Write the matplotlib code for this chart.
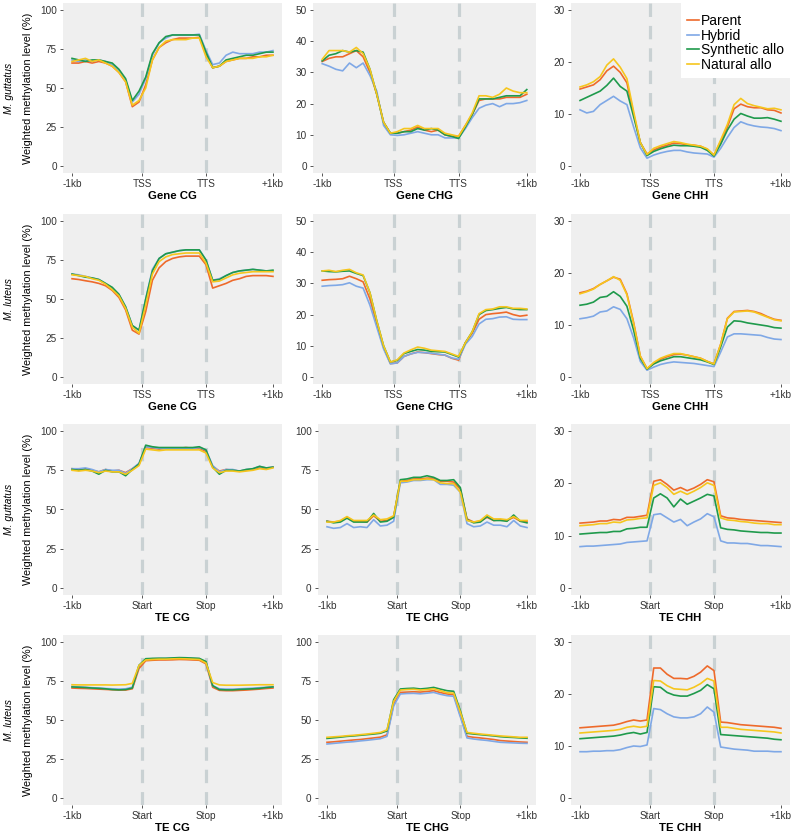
import matplotlib
matplotlib.use("Agg")
import matplotlib.pyplot as plt

plt.rcParams['font.family'] = ['Liberation Sans', 'DejaVu Sans']

# bins: -1kb = 0, TSS/Start = 21, TTS/Stop = 40, +1kb = 60
bins = list(range(0, 61, 2))
series = ['Parent', 'Hybrid', 'Synthetic allo', 'Natural allo']
colors = ['#EE6A2B', '#7FA8E6', '#1F9A4C', '#F6C61E']

# ---- M. guttatus, genes ----
gut_gene_cg_parent = [66, 66, 67, 66, 67, 66, 64, 60, 54, 38, 41, 52, 68, 76, 79, 81, 82, 82, 82, 82.5, 72, 63, 64, 67, 68, 69, 69, 70, 70, 71, 71]
gut_gene_cg_hybrid = [68, 67, 68, 67, 68, 67, 65, 61, 55, 41, 46, 56, 71, 79, 82, 84, 84, 84, 84, 84.5, 74, 65, 66, 71, 73, 72, 72, 72, 73, 73, 74]
gut_gene_cg_synth = [69, 68, 67, 68, 68, 67, 66, 62, 56, 42, 48, 57, 72, 79, 83, 84, 84, 84, 84, 84, 73, 63, 64, 68, 69, 70, 71, 71, 72, 73, 73]
gut_gene_cg_natural = [67, 68, 69, 67, 68, 66, 64, 60, 54, 39, 42, 50, 68, 76, 80, 81, 81, 81, 82, 82, 70, 63, 64, 67, 68, 69, 69, 69, 70, 70, 71]

gut_gene_chg_parent = [33.5, 34.5, 35, 35, 36, 37, 35, 30, 23, 14, 10.5, 10.5, 11, 11.5, 12.5, 11.5, 11, 11.5, 10, 9.5, 9.5, 13, 16.5, 21, 21.5, 21.5, 21.5, 22, 22, 22, 23]
gut_gene_chg_hybrid = [32.8, 32, 31, 30.5, 33, 31.5, 33, 29, 24, 13, 10, 9.8, 10, 10.5, 11, 10.5, 10, 10, 9, 9, 9, 12, 15.5, 18.5, 19.5, 20, 19, 20, 20, 20.3, 21]
gut_gene_chg_synth = [33.7, 35.5, 36, 37, 36.5, 37, 36.5, 31, 23, 14, 10.5, 10.5, 11, 11, 12, 11.5, 12, 11.5, 10, 9.5, 8.8, 12.5, 16.5, 21.5, 21.5, 21.5, 22, 22.5, 22.5, 22.5, 24.5]
gut_gene_chg_natural = [34.2, 37, 37, 37, 36.5, 38, 36, 31, 23, 14, 10.5, 11, 12, 12, 13, 12, 12, 12, 10.5, 10, 9.5, 13, 17, 22.5, 22.5, 22, 23, 25, 24, 23.5, 23.5]

gut_gene_chh_parent = [14.8, 15.2, 15.6, 16.6, 18.3, 19.2, 18, 16, 10, 4.5, 2.3, 3.1, 3.6, 4, 4.4, 4.3, 4.1, 4, 3.8, 3.2, 2.1, 4.7, 7.5, 11, 11.9, 11.4, 11.2, 11.2, 10.8, 10.7, 10.2]
gut_gene_chh_hybrid = [10.8, 10.2, 10.5, 11.8, 12.6, 13.4, 12.5, 11.8, 7.5, 3.5, 1.5, 2.1, 2.5, 2.8, 3.0, 3.0, 2.7, 2.5, 2.4, 2.3, 1.7, 3.4, 5.5, 7.4, 8.5, 8.0, 7.7, 7.5, 7.4, 7.2, 6.8]
gut_gene_chh_synth = [12.6, 13.2, 13.8, 14.4, 15.5, 16.9, 15.3, 14.4, 9.5, 4.5, 2, 2.8, 3.3, 3.7, 4.0, 3.9, 3.9, 3.8, 3.6, 3.0, 1.9, 4.2, 6.9, 9.0, 10.1, 9.6, 9.2, 9.2, 9.3, 9.0, 8.6]
gut_gene_chh_natural = [15.2, 15.6, 16.2, 17.2, 19.4, 20.6, 19.0, 16.8, 10.5, 4.5, 2.2, 3.4, 3.9, 4.3, 4.7, 4.5, 4.2, 4.0, 3.8, 3.3, 2.1, 5.0, 8.0, 11.8, 13.0, 12.0, 11.6, 11.3, 11.0, 11.1, 10.8]

# ---- M. luteus, genes ----
lut_gene_cg_parent = [63, 62.5, 61.7, 61, 60, 58.5, 55.5, 51, 43, 30, 27.5, 42, 62, 70, 74, 76, 77, 77.5, 77.5, 77.5, 72, 57, 58.5, 60, 62, 63, 64.5, 65, 65, 65, 64.5]
lut_gene_cg_hybrid = [66, 65.5, 64.5, 63.5, 62.5, 60, 57, 53, 45, 33, 30, 50, 69, 76, 79, 80, 81, 81.5, 81.5, 81.5, 75, 62, 63, 65, 67, 68, 68.5, 69, 68.5, 68, 68]
lut_gene_cg_synth = [66, 65, 64, 63.5, 62.5, 60, 57.5, 53, 45, 33, 30, 50, 68, 76, 79, 80, 81, 81.5, 81.5, 81.5, 75, 62, 62.5, 65, 67, 68, 68.5, 69, 68.5, 68, 68.5]
lut_gene_cg_natural = [65.5, 65, 64.5, 63, 62, 59.5, 56, 52, 44, 32, 28, 46, 66, 74, 77, 78.5, 79, 79.5, 79.5, 79.5, 73, 61, 61.5, 63.5, 65.5, 66.5, 67, 67.5, 67.5, 67.5, 67.5]

lut_gene_chg_parent = [31, 31.2, 31.3, 31.5, 32.3, 31.5, 30.5, 25, 17, 9.5, 4.3, 4.5, 6.6, 7.4, 8, 7.8, 7.5, 7.2, 7, 6, 5.4, 11, 14, 18.5, 20, 20.3, 20.5, 20.8, 20, 19.5, 19.8]
lut_gene_chg_hybrid = [29.1, 29.3, 29.4, 29.6, 30.2, 29.1, 28.5, 23, 16, 9, 4.2, 4.5, 6.6, 7.4, 7.9, 7.8, 7.6, 7.3, 7, 6.1, 5.7, 10.5, 13, 17, 18.5, 18.7, 19.2, 19.3, 18.5, 18.4, 18.4]
lut_gene_chg_synth = [34, 33.8, 33.7, 33.9, 34, 33.2, 32.5, 27, 18, 10, 4.8, 5.3, 7.5, 8.2, 8.8, 8.6, 8.2, 8.1, 8, 7.2, 6.4, 11, 14.5, 20, 21.3, 21.6, 22, 22.3, 21.8, 21.6, 21.6]
lut_gene_chg_natural = [34, 34.2, 33.8, 34.2, 34.5, 33.4, 32.7, 27, 18, 10, 4.8, 5.5, 7.7, 8.7, 9.6, 9.2, 8.6, 8.4, 8.2, 7.4, 6.6, 11, 14.5, 20.3, 21.6, 21.8, 22.5, 22.5, 22, 22, 21.8]

lut_gene_chh_parent = [16.2, 16.5, 17, 17.8, 18.5, 19.2, 18.8, 16, 10.5, 4, 1.6, 2.6, 3.4, 3.9, 4.3, 4.4, 4.2, 3.9, 3.6, 3.0, 2.5, 6.3, 11.3, 12.6, 12.7, 12.8, 12.6, 12.2, 11.6, 11.1, 10.9]
lut_gene_chh_hybrid = [11.2, 11.4, 11.7, 12.5, 12.7, 13.5, 13.0, 11.2, 7.5, 3, 1.3, 1.9, 2.4, 2.7, 2.9, 2.8, 2.7, 2.6, 2.4, 2.2, 2.0, 4.8, 7.7, 8.3, 8.3, 8.2, 8.1, 8.0, 7.6, 7.3, 7.2]
lut_gene_chh_synth = [13.8, 14, 14.4, 15.3, 15.5, 16.4, 15.5, 13.6, 9, 3.6, 1.5, 2.5, 3.1, 3.5, 3.9, 3.9, 3.7, 3.5, 3.3, 2.9, 2.4, 5.8, 9.6, 10.8, 10.7, 10.4, 10.2, 10, 9.8, 9.5, 9.4]
lut_gene_chh_natural = [16.0, 16.4, 16.9, 17.8, 18.5, 19.3, 18.6, 15.8, 10.3, 4, 1.6, 2.8, 3.6, 4.1, 4.5, 4.5, 4.2, 3.9, 3.6, 3.0, 2.5, 6.3, 11.2, 12.5, 12.6, 12.7, 12.5, 12, 11.5, 11.0, 10.8]

# ---- M. guttatus, TEs ----
gut_te_cg_parent = [76, 75.5, 76, 75, 74, 75.5, 74.5, 75, 73.5, 76, 79, 89.5, 89, 88.5, 89, 89, 89, 89.5, 89, 89, 87, 77.5, 74.5, 75.5, 75, 74.5, 75, 75.5, 76.5, 76, 77]
gut_te_cg_hybrid = [76, 76, 76.5, 75.5, 74, 75.5, 75, 75, 73, 76, 79.5, 90, 89.5, 89, 89, 89, 89, 89, 89, 89.5, 88, 78, 74, 75.5, 75.5, 74.5, 75.5, 76, 77.5, 76.5, 77]
gut_te_cg_synth = [75.5, 75, 75.5, 74.5, 72.5, 75, 74, 74, 71.5, 75.5, 79, 91, 90, 89.5, 89.5, 89.5, 89.5, 89.5, 89.5, 90, 88, 77, 72.5, 75, 75, 74.5, 75.5, 76, 77.5, 76.5, 77]
gut_te_cg_natural = [75, 74.5, 75, 74.5, 73.5, 74.5, 74, 74, 72.5, 75, 78, 88.5, 88, 87.5, 88, 88, 88, 88, 88, 88, 86, 76.5, 73.5, 74.5, 74.5, 74, 74.5, 75, 76, 75.5, 76.5]

gut_te_chg_parent = [42.5, 42, 42.5, 45, 42.5, 42.5, 42, 46, 42.5, 43, 45.5, 68, 68.5, 69.5, 69.5, 70, 70, 68, 68, 67.5, 63, 44, 42, 42.5, 45, 43, 43.5, 43, 45, 42.5, 42.5]
gut_te_chg_hybrid = [39, 38, 38.5, 41, 38.5, 39, 38.5, 43.5, 39.5, 40, 42.5, 67, 67.5, 68.5, 68.5, 69, 69, 66, 66, 65.5, 61, 41, 39, 39.5, 42, 40, 40, 39, 43, 39.5, 38.5]
gut_te_chg_synth = [42.5, 41.5, 42, 44.5, 42, 42, 42, 47.5, 42, 42.5, 45, 69, 69.5, 70.5, 70.5, 71.5, 70.5, 68.5, 68.5, 69, 64, 43.5, 41.5, 42, 45.5, 43, 43, 42.5, 46.5, 42.5, 41.5]
gut_te_chg_natural = [42, 42, 43, 45.5, 43, 43, 43, 46.5, 43.5, 44, 46, 68, 68, 69, 69, 69.5, 69, 67, 66.5, 66.5, 61, 43, 42, 43, 46.5, 44, 44, 43.5, 45.5, 43, 43]

gut_te_chh_parent = [12.4, 12.5, 12.6, 12.8, 12.8, 13.1, 13.0, 13.5, 13.5, 13.7, 13.9, 20.4, 20.7, 19.8, 18.7, 19.2, 18.6, 19.1, 19.8, 20.7, 20.3, 13.8, 13.4, 13.3, 13.1, 13.0, 12.9, 12.8, 12.7, 12.6, 12.5]
gut_te_chh_hybrid = [7.9, 8.0, 8.0, 8.1, 8.2, 8.3, 8.4, 8.7, 8.8, 8.9, 9.0, 14.0, 14.2, 13.4, 12.6, 13.1, 11.9, 12.6, 13.2, 14.2, 13.6, 9.0, 8.6, 8.6, 8.5, 8.5, 8.3, 8.1, 8.1, 8.0, 7.9]
gut_te_chh_synth = [10.3, 10.4, 10.5, 10.6, 10.6, 10.8, 10.8, 11.3, 11.4, 11.6, 11.6, 17.2, 18.0, 17.2, 15.5, 17.0, 16.0, 16.6, 17.2, 17.9, 17.6, 11.5, 11.2, 11.1, 10.9, 10.8, 10.7, 10.6, 10.6, 10.5, 10.5]
gut_te_chh_natural = [11.9, 12.0, 12.1, 12.3, 12.3, 12.6, 12.5, 13.0, 13.1, 13.3, 13.4, 19.6, 20.1, 19.2, 17.9, 18.5, 17.9, 18.5, 19.2, 20.1, 19.6, 13.4, 13.0, 12.9, 12.7, 12.6, 12.4, 12.3, 12.3, 12.1, 12.1]

# ---- M. luteus, TEs ----
lut_te_cg_parent = [70.5, 70.3, 70.2, 70, 69.8, 69.6, 69.4, 69.2, 69.2, 70, 83, 88, 88.3, 88.5, 88.5, 88.6, 88.8, 88.7, 88.5, 88.3, 86, 71, 69, 68.8, 68.8, 69, 69.2, 69.5, 69.8, 70.2, 70.5]
lut_te_cg_hybrid = [71.5, 71.2, 71, 70.7, 70.5, 70.2, 70, 69.8, 70, 71, 85, 89, 89.3, 89.4, 89.4, 89.6, 89.8, 89.7, 89.5, 89.3, 87, 72, 70, 69.8, 69.8, 70, 70.2, 70.4, 70.7, 71, 71.3]
lut_te_cg_synth = [71.2, 71, 70.8, 70.5, 70.3, 70, 69.5, 69.3, 69.5, 70.5, 85, 89.3, 89.5, 89.6, 89.6, 89.8, 90, 89.9, 89.7, 89.5, 87.5, 72, 69.5, 69.3, 69.3, 69.6, 69.8, 70, 70.3, 70.8, 71.2]
lut_te_cg_natural = [72.6, 72.5, 72.5, 72.5, 72.5, 72.5, 72.4, 72.5, 72.6, 73.5, 85, 88.5, 88.8, 89, 89, 89.2, 89.3, 89.2, 89, 88.8, 86.5, 74, 72.5, 72.3, 72.3, 72.3, 72.4, 72.5, 72.6, 72.6, 72.6]

lut_te_chg_parent = [35.7, 36.0, 36.4, 36.8, 37.2, 37.5, 38.0, 38.5, 39.0, 40.5, 60, 67.7, 67.9, 68.1, 67.9, 68.3, 68.8, 67.6, 66.7, 66.2, 53, 39.5, 38.9, 38.5, 38.0, 37.5, 36.8, 36.5, 36.2, 35.9, 35.7]
lut_te_chg_hybrid = [34.6, 35.0, 35.4, 35.8, 36.1, 36.6, 37.0, 37.5, 38.0, 39.5, 59, 66.7, 67.0, 67.1, 66.8, 67.2, 67.7, 66.5, 65.6, 65.2, 52, 38.5, 37.8, 37.3, 36.9, 36.3, 35.7, 35.5, 35.3, 35.1, 35.0]
lut_te_chg_synth = [38.2, 38.6, 39.0, 39.5, 39.8, 40.2, 40.6, 41.0, 41.5, 43.0, 63, 69.9, 70.2, 70.4, 69.9, 70.3, 70.9, 69.8, 68.8, 68.4, 56, 41.5, 41.0, 40.6, 40.2, 39.8, 39.3, 39.0, 38.8, 38.5, 38.3]
lut_te_chg_natural = [38.9, 39.2, 39.5, 39.9, 40.2, 40.6, 41.0, 41.5, 42.0, 43.7, 62, 69.2, 69.5, 69.7, 69.2, 69.5, 70.0, 68.8, 67.5, 67.2, 55, 42.0, 41.5, 41.0, 40.6, 40.2, 39.8, 39.5, 39.2, 38.9, 38.9]

lut_te_chh_parent = [13.5, 13.6, 13.7, 13.8, 13.9, 14.0, 14.3, 14.7, 15.0, 14.8, 15.0, 25.0, 25.0, 23.8, 23.0, 23.0, 22.9, 23.4, 24.2, 25.4, 24.5, 14.6, 14.5, 14.3, 14.1, 14.0, 13.9, 13.8, 13.7, 13.6, 13.4]
lut_te_chh_hybrid = [8.9, 8.9, 9.0, 9.0, 9.1, 9.1, 9.3, 9.7, 10.0, 9.9, 10.2, 17.2, 17.0, 16.2, 15.6, 15.4, 15.4, 15.6, 16.2, 17.5, 16.5, 9.8, 9.6, 9.4, 9.3, 9.2, 9.0, 9.0, 9.0, 8.9, 8.9]
lut_te_chh_synth = [11.4, 11.5, 11.6, 11.7, 11.8, 11.9, 12.1, 12.4, 12.6, 12.3, 12.6, 21.4, 21.3, 20.3, 19.8, 19.6, 19.6, 20.1, 20.7, 21.8, 21.0, 12.2, 12.1, 12.0, 11.9, 11.8, 11.7, 11.6, 11.5, 11.3, 11.2]
lut_te_chh_natural = [12.5, 12.6, 12.7, 12.8, 12.9, 13.0, 13.2, 13.6, 13.8, 13.6, 13.8, 22.6, 22.5, 21.6, 21.0, 20.9, 20.8, 21.3, 22.0, 23.0, 22.5, 13.6, 13.6, 13.4, 13.2, 13.1, 13.0, 12.9, 12.8, 12.7, 12.5]

gene_ticklabels = ['-1kb', 'TSS', 'TTS', '+1kb']
te_ticklabels = ['-1kb', 'Start', 'Stop', '+1kb']
row_species = ['M. guttatus', 'M. luteus', 'M. guttatus', 'M. luteus']

panels = [
    # row, col, title, ticklabels, ymax, ystep, data
    (0, 0, 'Gene CG', gene_ticklabels, 100, 25, [gut_gene_cg_parent, gut_gene_cg_hybrid, gut_gene_cg_synth, gut_gene_cg_natural]),
    (0, 1, 'Gene CHG', gene_ticklabels, 50, 10, [gut_gene_chg_parent, gut_gene_chg_hybrid, gut_gene_chg_synth, gut_gene_chg_natural]),
    (0, 2, 'Gene CHH', gene_ticklabels, 30, 10, [gut_gene_chh_parent, gut_gene_chh_hybrid, gut_gene_chh_synth, gut_gene_chh_natural]),
    (1, 0, 'Gene CG', gene_ticklabels, 100, 25, [lut_gene_cg_parent, lut_gene_cg_hybrid, lut_gene_cg_synth, lut_gene_cg_natural]),
    (1, 1, 'Gene CHG', gene_ticklabels, 50, 10, [lut_gene_chg_parent, lut_gene_chg_hybrid, lut_gene_chg_synth, lut_gene_chg_natural]),
    (1, 2, 'Gene CHH', gene_ticklabels, 30, 10, [lut_gene_chh_parent, lut_gene_chh_hybrid, lut_gene_chh_synth, lut_gene_chh_natural]),
    (2, 0, 'TE CG', te_ticklabels, 100, 25, [gut_te_cg_parent, gut_te_cg_hybrid, gut_te_cg_synth, gut_te_cg_natural]),
    (2, 1, 'TE CHG', te_ticklabels, 100, 25, [gut_te_chg_parent, gut_te_chg_hybrid, gut_te_chg_synth, gut_te_chg_natural]),
    (2, 2, 'TE CHH', te_ticklabels, 30, 10, [gut_te_chh_parent, gut_te_chh_hybrid, gut_te_chh_synth, gut_te_chh_natural]),
    (3, 0, 'TE CG', te_ticklabels, 100, 25, [lut_te_cg_parent, lut_te_cg_hybrid, lut_te_cg_synth, lut_te_cg_natural]),
    (3, 1, 'TE CHG', te_ticklabels, 100, 25, [lut_te_chg_parent, lut_te_chg_hybrid, lut_te_chg_synth, lut_te_chg_natural]),
    (3, 2, 'TE CHH', te_ticklabels, 30, 10, [lut_te_chh_parent, lut_te_chh_hybrid, lut_te_chh_synth, lut_te_chh_natural]),
]

W, H = 793, 840
fig = plt.figure(figsize=(W / 100, H / 100), dpi=100)

row_tb = [(3, 173), (214, 384), (424, 595), (635, 805)]


def col_lr(row, col):
    if col == 0:
        return 63, 282
    if col == 1:
        return (313, 536) if row < 2 else (318, 536)
    return 571, 790


for row, col, title, ticklabels, ymax, ystep, data in panels:
    l, r = col_lr(row, col)
    t, b = row_tb[row]
    ax = fig.add_axes([l / W, 1 - b / H, (r - l) / W, (b - t) / H])
    ax.set_facecolor('#EFEFEF')
    for s in ax.spines.values():
        s.set_visible(False)
    for xv in (21, 40):
        ax.axvline(xv, color='#C9D1D3', lw=2.3, dashes=(4.2, 2.8), zorder=1)
    for vals, name, c in zip(data, series, colors):
        ax.plot(bins, vals, color=c, lw=1.2, label=name, zorder=2)
    pad = 0.045 * ymax
    ax.set_ylim(-pad, ymax + pad)
    ax.set_xlim(-2.7, 62.7)
    ax.set_yticks(list(range(0, ymax + 1, ystep)))
    ax.set_xticks([0, 21, 40, 60])
    ax.set_xticklabels(ticklabels)
    ax.tick_params(length=2.5, width=0.7, color='#555555', labelsize=7.2,
                   labelcolor='#333333', pad=2)
    ax.set_xlabel(title, fontsize=8.2, fontweight='bold', labelpad=1)
    if col == 0:
        yc = 1 - (t + b) / 2 / H
        fig.text(28 / W, yc, 'Weighted methylation level (%)', rotation=90,
                 ha='center', va='center', fontsize=7.8)
        fig.text(9 / W, yc, row_species[row], rotation=90, ha='center',
                 va='center', fontsize=7.5, style='italic')
    if row == 0 and col == 2:
        leg = ax.legend(loc='upper right', bbox_to_anchor=(1.0, 1.018),
                        frameon=True, facecolor='white', edgecolor='none',
                        fancybox=False, framealpha=1, fontsize=10,
                        title=' ', title_fontsize=5,
                        borderpad=0.45, labelspacing=0.05, handlelength=0.9,
                        handletextpad=0.1, borderaxespad=0)
        leg._legend_box.align = 'left'
        leg.set_zorder(5)

fig.savefig('out.png', dpi=100)
